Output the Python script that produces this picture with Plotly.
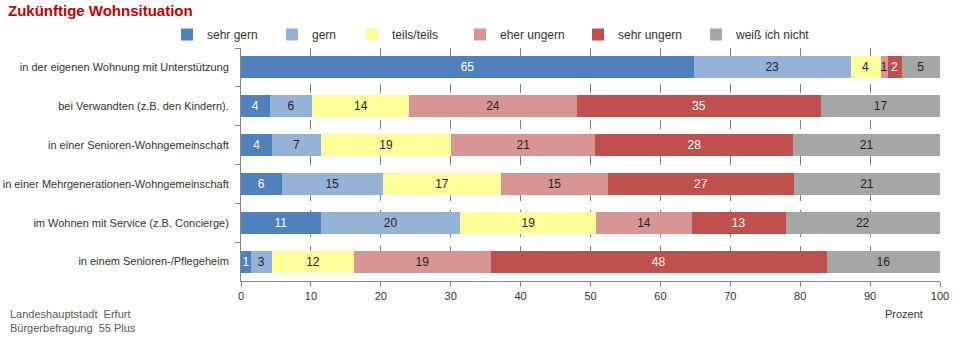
import plotly.graph_objects as go

categories = [
    "in der eigenen Wohnung mit Unterstützung",
    "bei Verwandten (z.B. den Kindern).",
    "in einer Senioren-Wohngemeinschaft",
    "in einer Mehrgenerationen-Wohngemeinschaft",
    "im Wohnen mit Service (z.B. Concierge)",
    "in einem Senioren-/Pflegeheim",
]
series_names = ["sehr gern", "gern", "teils/teils", "eher ungern", "sehr ungern", "weiß ich nicht"]

sehr_gern = [64.8, 4.1, 4.5, 5.8, 11.4, 1.4]
gern = [22.4, 6.1, 6.9, 14.5, 20.0, 3.0]
teils = [4.3, 13.9, 18.7, 16.9, 19.4, 11.8]
eher_ungern = [1.0, 23.9, 20.6, 15.3, 13.7, 19.5]
sehr_ungern = [2.0, 35.0, 28.3, 26.6, 13.4, 48.1]
weiss_nicht = [5.5, 17.0, 21.0, 20.9, 22.1, 16.2]

lab_sehr_gern = ["65", "4", "4", "6", "11", "1"]
lab_gern = ["23", "6", "7", "15", "20", "3"]
lab_teils = ["4", "14", "19", "17", "19", "12"]
lab_eher_ungern = ["1", "24", "21", "15", "14", "19"]
lab_sehr_ungern = ["2", "35", "28", "27", "13", "48"]
lab_weiss_nicht = ["5", "17", "21", "21", "22", "16"]

x_ticks = [0, 10, 20, 30, 40, 50, 60, 70, 80, 90, 100]

values = [sehr_gern, gern, teils, eher_ungern, sehr_ungern, weiss_nicht]
labels = [lab_sehr_gern, lab_gern, lab_teils, lab_eher_ungern, lab_sehr_ungern, lab_weiss_nicht]
colors = ["#4F81BD", "#95B3D7", "#FFFF99", "#D99594", "#C0504D", "#A6A6A6"]
text_colors = ["#FFFFFF", "#1F1F1F", "#1F1F1F", "#1F1F1F", "#FFFFFF", "#1F1F1F"]

FONT = "Liberation Sans, Arial, sans-serif"

legend_x_px = [167, 272, 352, 460, 578, 696]

fig = go.Figure()
for i, (name, vals, labs, col, tcol) in enumerate(zip(series_names, values, labels, colors, text_colors)):
    lg = "legend" if i == 0 else f"legend{i+1}"
    fig.add_trace(go.Bar(
        y=categories, x=vals, name=name, orientation="h",
        marker=dict(color=col, line=dict(width=0)),
        text=labs, textposition="inside", insidetextanchor="middle",
        textangle=0, constraintext="none",
        textfont=dict(color=tcol, size=12, family=FONT),
        legend=lg, hoverinfo="skip", showlegend=True,
    ))

legend_layouts = {}
for i, px in enumerate(legend_x_px):
    key = "legend" if i == 0 else f"legend{i+1}"
    legend_layouts[key] = dict(
        xref="container", yref="container",
        x=px / 960, y=1 - 20 / 350, xanchor="left", yanchor="top",
        orientation="h", bgcolor="rgba(0,0,0,0)", borderwidth=0,
        font=dict(family=FONT, size=12, color="#333333"),
        itemwidth=30, tracegroupgap=0, visible=True,
    )

fig.update_layout(
    barmode="stack",
    width=960, height=350,
    showlegend=True,
    margin=dict(l=241, r=20, t=48, b=69, autoexpand=False),
    paper_bgcolor="white", plot_bgcolor="white",
    bargap=0.43,
    font=dict(family=FONT, size=12, color="#333333"),
    title=dict(
        text="<b>Zukünftige Wohnsituation</b>",
        xref="container", yref="container", x=8 / 960, y=1 - 5 / 350,
        xanchor="left", yanchor="top",
        font=dict(family=FONT, size=15, color="#C00000"),
    ),
    uniformtext=dict(minsize=12, mode="show"),
    **legend_layouts,
)

fig.update_xaxes(
    range=[0, 100], tickvals=x_ticks, ticktext=[str(t) for t in x_ticks],
    showgrid=True, gridcolor="#808080", griddash="dash", gridwidth=1,
    showline=True, linecolor="#868686", linewidth=1,
    ticks="outside", ticklen=5, tickcolor="#868686",
    tickfont=dict(family=FONT, size=11, color="#333333"),
    zeroline=False, fixedrange=True, automargin=False,
)
fig.update_yaxes(
    categoryorder="array", categoryarray=categories, autorange="reversed",
    showline=True, linecolor="#868686", linewidth=1,
    ticks="outside", ticklen=5, tickcolor="#868686", tickson="boundaries",
    tickfont=dict(family=FONT, size=11, color="#333333"),
    ticklabelstandoff=9, showgrid=False, fixedrange=True, automargin=False,
)

fig.add_annotation(
    text="Prozent", xref="x", yref="paper", x=94.8, y=(281 - 314) / 233,
    showarrow=False, xanchor="center", yanchor="middle",
    font=dict(family=FONT, size=11, color="#333333"),
)
fig.add_annotation(
    text="Landeshauptstadt  Erfurt<br>Bürgerbefragung  55 Plus",
    xref="paper", yref="paper", x=(8 - 241) / 699, y=(281 - 306) / 233,
    showarrow=False, xanchor="left", yanchor="top", align="left",
    font=dict(family=FONT, size=11, color="#595959"),
)

fig.write_html("out.html")
